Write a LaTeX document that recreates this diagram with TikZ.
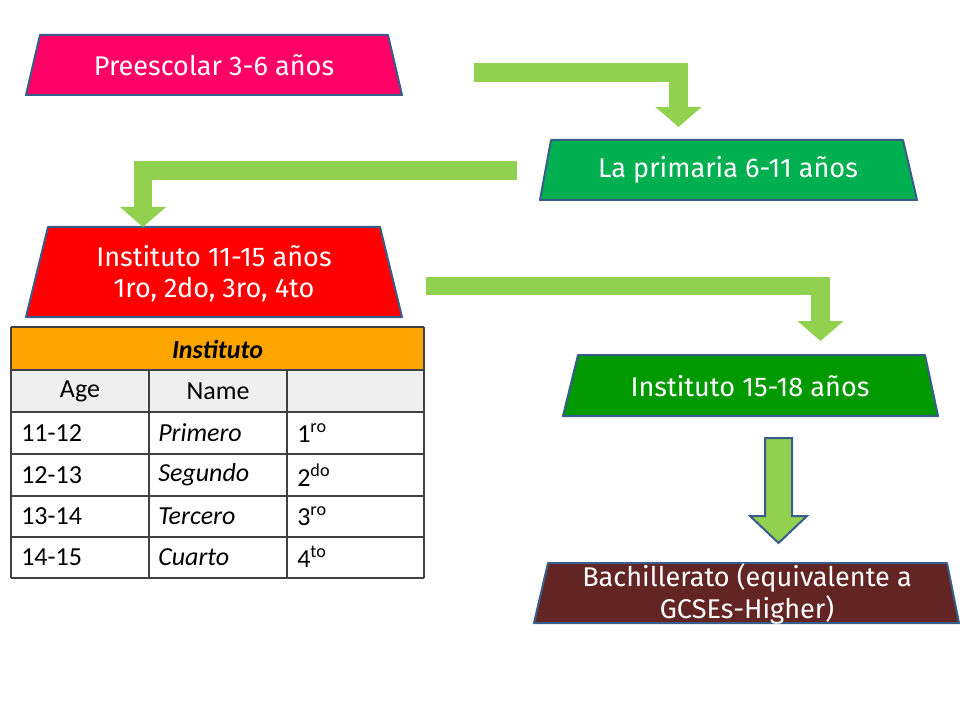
\documentclass[tikz,border=0pt]{standalone}
\usepackage{fontspec}
\setmainfont{Carlito}
\newfontfamily\boxfont{Fira Sans}
\usetikzlibrary{arrows.meta}

\definecolor{preepink}{HTML}{FF0066}
\definecolor{primgreen}{HTML}{00B050}
\definecolor{instred}{HTML}{FF0000}
\definecolor{instgreen}{HTML}{009A00}
\definecolor{bachbrown}{HTML}{632523}
\definecolor{edgeblue}{HTML}{385D8A}
\definecolor{arrowgreen}{HTML}{92D050}
\definecolor{headorange}{HTML}{FFA500}
\definecolor{rowgray}{HTML}{EFEFEF}
\definecolor{tabgray}{HTML}{404040}

\tikzset{
	boxline/.style={draw=edgeblue, line width=1.5pt, line join=round},
	boxtext/.style={text=white, font=\boxfont\fontsize{20.3}{23.5}\selectfont, align=center},
	bigarrow/.style={draw=arrowgreen, line width=14pt, line join=miter,
		-{Triangle[width=33.75pt, length=15pt]}},
	tabline/.style={draw=tabgray, line width=0.8pt},
	celltext/.style={font=\fontsize{19.5}{23}\selectfont, inner sep=0pt}
}

\begin{document}
\begin{tikzpicture}[x=0.75pt, y=-0.75pt]
		%%%%% START %%%%%
		\useasboundingbox (0, 0) rectangle (960, 720);
		
		% school stages
		\draw[boxline, fill=preepink] (40, 35) -- (388, 35) -- (402, 95) -- (26, 95) -- cycle;
		\node[boxtext] (pre) at (214, 65) {Preescolar 3-6 años};
		
		\draw[boxline, fill=primgreen] (551, 140) -- (903, 140) -- (917, 200) -- (540, 200) -- cycle;
		\node[boxtext] (prim) at (728, 170) {La primaria 6-11 años};
		
		\draw[boxline, fill=instred] (48, 227) -- (380, 227) -- (402, 317) -- (26, 317) -- cycle;
		\node[boxtext] (inst) at (214, 274) {Instituto 11-15 años\\1ro, 2do, 3ro, 4to};
		
		\draw[boxline, fill=instgreen] (578, 355) -- (925, 355) -- (938, 416) -- (563, 416) -- cycle;
		\node[boxtext] (instb) at (750, 386) {Instituto 15-18 años};
		
		\draw[boxline, fill=bachbrown] (548, 563) -- (947, 563) -- (959, 623) -- (534, 623) -- cycle;
		\node[boxtext] (bach) at (747, 594) {Bachillerato (equivalente a\\GCSEs-Higher)};
		
		% green arrows
		\coordinate (a1s) at (474, 72.5);
		\coordinate (a1e) at (678.5, 127);
		\draw[bigarrow] (a1s) -| (a1e);
		
		\coordinate (a2s) at (517, 170.5);
		\coordinate (a2e) at (143, 227);
		\draw[bigarrow] (a2s) -| (a2e);
		
		\coordinate (a3s) at (426, 286);
		\coordinate (a3e) at (820.5, 341);
		\draw[bigarrow] (a3s) -| (a3e);
		
		\draw[boxline, line join=miter, fill=arrowgreen] (765, 438) -- (792, 438) -- (792, 516) -- (807, 516)
			-- (778.5, 543) -- (750, 516) -- (765, 516) -- cycle;
		
		% table
		\fill[headorange] (11, 327) rectangle (424, 370);
		\fill[rowgray] (11, 370) rectangle (424, 412);
		\foreach \y in {327, 370, 412, 454, 496, 537, 578}
			\draw[tabline] (11, \y) -- (424, \y);
		\foreach \x in {11, 424}
			\draw[tabline] (\x, 327) -- (\x, 578);
		\foreach \x in {149, 287}
			\draw[tabline] (\x, 370) -- (\x, 578);
		
		\node[celltext, font=\bfseries\itshape\fontsize{19.5}{23}\selectfont] (thead) at (217.5, 349) {Instituto};
		\node[celltext] (tage) at (80, 391) {Age};
		\node[celltext] (tname) at (218, 391) {Name};
		
		\foreach \y/\a/\n/\o in {433/11-12/Primero/1\textsuperscript{ro},
			475/12-13/Segundo/2\textsuperscript{do},
			516/13-14/Tercero/3\textsuperscript{ro},
			557/14-15/Cuarto/4\textsuperscript{to}} {
			\node[celltext, anchor=west] (age\y) at (21, \y) {\a};
			\node[celltext, anchor=west] (name\y) at (158, \y) {\itshape\n};
			\node[celltext, anchor=west] (ord\y) at (297, \y) {\o};
		}
		
		%%%%% END %%%%%
\end{tikzpicture}
\end{document}
